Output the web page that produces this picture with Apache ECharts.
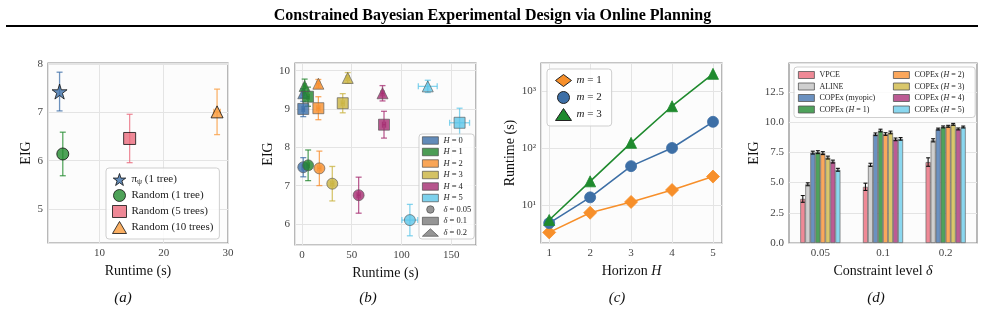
<!DOCTYPE html>
<html>
<head>
<meta charset="utf-8">
<script src="https://cdn.jsdelivr.net/npm/echarts@6/dist/echarts.min.js"></script>
<style>
  html, body { margin: 0; padding: 0; background: #fff; }
  #chart { width: 985px; height: 314px; }
</style>
</head>
<body>
<div id="chart"></div>
<script>
// ---- (a) tree policy vs random rollouts ----
const aNames = ['π_ψ (1 tree)', 'Random (1 tree)', 'Random (5 trees)', 'Random (10 trees)'];
const aRuntime = [3.8, 4.3, 14.7, 28.3];
const aRuntimeErr = [0, 0, 0, 0.5];
const aEIG = [7.43, 6.14, 6.46, 7.01];
const aEIGErr = [0.40, 0.45, 0.50, 0.47];

// ---- (b) runtime vs EIG per horizon and constraint level ----
const horizons = ['H = 0', 'H = 1', 'H = 2', 'H = 3', 'H = 4', 'H = 5'];
const deltas = ['δ = 0.05', 'δ = 0.1', 'δ = 0.2'];
const bRuntime005 = [1.3, 6.2, 17.5, 30.5, 57, 108.5];
const bEIG005 = [7.48, 7.53, 7.45, 7.05, 6.75, 6.10];
const bEIGErr005 = [0.25, 0.40, 0.45, 0.45, 0.47, 0.41];
const bRuntimeErr005 = [1.2, 1.2, 1.5, 1.5, 1.5, 8];
const bRuntime01 = [1.3, 6.1, 16.5, 41, 82.5, 158.5];
const bEIG01 = [9.00, 9.32, 9.02, 9.15, 8.59, 8.64];
const bEIGErr01 = [0.20, 0.25, 0.30, 0.25, 0.35, 0.38];
const bRuntimeErr01 = [1.2, 1.2, 1.5, 1.5, 1.5, 10];
const bRuntime02 = [1.3, 2.7, 16.5, 46, 81, 126.5];
const bEIG02 = [9.41, 9.60, 9.66, 9.81, 9.41, 9.59];
const bEIGErr02 = [0.12, 0.18, 0.11, 0.14, 0.20, 0.16];
const bRuntimeErr02 = [1.2, 1.2, 1.5, 1.5, 1.5, 9.5];

// ---- (c) runtime vs planning horizon ----
const cHorizon = [1, 2, 3, 4, 5];
const cNames = ['m = 1', 'm = 2', 'm = 3'];
const cRuntimeM1 = [3.3, 7.3, 11.3, 18.3, 31.5];
const cRuntimeM2 = [4.8, 13.6, 48, 100, 288];
const cRuntimeM3 = [5.45, 26, 123, 540, 2000];

// ---- (d) EIG per constraint level ----
const dLevels = ['0.05', '0.1', '0.2'];
const dMethods = ['VPCE', 'ALINE', 'COPEx (myopic)', 'COPEx (H = 1)',
                  'COPEx (H = 2)', 'COPEx (H = 3)', 'COPEx (H = 4)', 'COPEx (H = 5)'];
const dVPCE = [3.65, 4.65, 6.70];
const dALINE = [4.86, 6.47, 8.50];
const dMyopic = [7.48, 9.00, 9.43];
const dH1 = [7.52, 9.31, 9.61];
const dH2 = [7.44, 9.02, 9.66];
const dH3 = [7.07, 9.15, 9.82];
const dH4 = [6.74, 8.58, 9.44];
const dH5 = [6.06, 8.62, 9.60];
const dVPCEErr = [0.28, 0.30, 0.35];
const dALINEErr = [0.12, 0.13, 0.13];
const dCopexErr = [0.12, 0.11, 0.08];

const FONT = '"Liberation Serif", "DejaVu Serif", serif';
const STAR = 'path://M50,2 L61.8,38.2 L99.5,38.2 L69,60.5 L80.8,96.7 L50,74.3 L19.2,96.7 L31,60.5 L0.5,38.2 L38.2,38.2 Z';

const aColors = ['#3d6fa8', '#228b2e', '#ea6a7c', '#f99b3c'];
const aSymbols = [STAR, 'circle', 'rect', 'triangle'];
const hColors = ['#3b6ea8', '#21842c', '#f88e2c', '#c9b33f', '#a52c70', '#5cc6e8'];
const bSymbols = ['circle', 'rect', 'triangle'];
const cColors = ['#f78f2a', '#3d6fa6', '#1f8a2e'];
const cSymbols = ['diamond', 'circle', 'triangle'];
const dColors = ['#ef8996', '#cfcfcf', '#6b91c0', '#4ea25b', '#fba75c', '#d9c76b', '#bc5b94', '#8ad7ef'];

const chart = echarts.init(document.getElementById('chart'));

const gridBase = { show: true, backgroundColor: '#fcfcfc', borderColor: '#8a8a8a', borderWidth: 1.2 };
const grids = [
  { left: 48, top: 63, width: 180, height: 180 },
  { left: 295, top: 63, width: 181, height: 182 },
  { left: 541, top: 63, width: 181, height: 180 },
  { left: 789, top: 63, width: 188, height: 180 }
].map(g => Object.assign({}, gridBase, g));

function axis(gridIndex, type, opts) {
  return Object.assign({
    type: type,
    gridIndex: gridIndex,
    axisLine: { show: false },
    axisTick: { show: false },
    splitLine: { show: true, lineStyle: { color: '#e4e4e4', width: 1 } },
    axisLabel: {
      color: '#444', fontFamily: FONT, fontSize: 11, margin: 5,
      showMinLabel: false, showMaxLabel: false
    },
    nameLocation: 'middle',
    nameTextStyle: { color: '#111', fontFamily: FONT, fontSize: 14 }
  }, opts);
}

// error bars drawn through the axes of each grid
function errorBar(params, api) {
  const x = api.value(0), y = api.value(1), xe = api.value(2), ye = api.value(3);
  const cap = 3;
  const style = { stroke: api.visual('color'), lineWidth: 1.3, opacity: 0.75 };
  const top = api.coord([x, y + ye]);
  const bot = api.coord([x, y - ye]);
  const children = [
    { type: 'line', shape: { x1: top[0], y1: top[1], x2: bot[0], y2: bot[1] }, style },
    { type: 'line', shape: { x1: top[0] - cap, y1: top[1], x2: top[0] + cap, y2: top[1] }, style },
    { type: 'line', shape: { x1: bot[0] - cap, y1: bot[1], x2: bot[0] + cap, y2: bot[1] }, style }
  ];
  if (xe > 0) {
    const l = api.coord([x - xe, y]);
    const r = api.coord([x + xe, y]);
    children.push(
      { type: 'line', shape: { x1: l[0], y1: l[1], x2: r[0], y2: r[1] }, style },
      { type: 'line', shape: { x1: l[0], y1: l[1] - cap, x2: l[0], y2: l[1] + cap }, style },
      { type: 'line', shape: { x1: r[0], y1: r[1] - cap, x2: r[0], y2: r[1] + cap }, style }
    );
  }
  return { type: 'group', children };
}

const series = [];

// (a)
aNames.forEach((name, i) => {
  series.push({
    type: 'custom', xAxisIndex: 0, yAxisIndex: 0, z: 2, silent: true,
    itemStyle: { color: aColors[i] },
    renderItem: errorBar,
    data: [[aRuntime[i], aEIG[i], aRuntimeErr[i], aEIGErr[i]]]
  });
  series.push({
    name, type: 'scatter', xAxisIndex: 0, yAxisIndex: 0, z: 3,
    symbol: aSymbols[i], symbolSize: i === 0 ? 15 : 12,
    itemStyle: { color: aColors[i], borderColor: '#111', borderWidth: 1 },
    data: [[aRuntime[i], aEIG[i]]]
  });
});

// (b)
const bRuntime = [bRuntime005, bRuntime01, bRuntime02];
const bEIG = [bEIG005, bEIG01, bEIG02];
const bEIGErr = [bEIGErr005, bEIGErr01, bEIGErr02];
const bRuntimeErr = [bRuntimeErr005, bRuntimeErr01, bRuntimeErr02];
horizons.forEach((name, h) => {
  series.push({
    type: 'custom', xAxisIndex: 1, yAxisIndex: 1, z: 2, silent: true,
    itemStyle: { color: hColors[h] },
    renderItem: errorBar,
    data: deltas.map((d, k) => [bRuntime[k][h], bEIG[k][h], bRuntimeErr[k][h], bEIGErr[k][h]])
  });
  series.push({
    name, type: 'scatter', xAxisIndex: 1, yAxisIndex: 1, z: 3,
    symbolSize: 11,
    itemStyle: { color: hColors[h], borderColor: '#555', borderWidth: 0.8 },
    data: deltas.map((d, k) => ({ value: [bRuntime[k][h], bEIG[k][h]], symbol: bSymbols[k] }))
  });
});
deltas.forEach((name, k) => {
  series.push({
    name, type: 'scatter', xAxisIndex: 1, yAxisIndex: 1, symbol: bSymbols[k],
    itemStyle: { color: '#7a7a7a', borderColor: '#444', borderWidth: 0.8 },
    data: []
  });
});

// (c)
[cRuntimeM1, cRuntimeM2, cRuntimeM3].forEach((vals, i) => {
  series.push({
    name: cNames[i], type: 'line', xAxisIndex: 2, yAxisIndex: 2, z: 3 + i,
    symbol: cSymbols[i], symbolSize: i === 0 ? 13 : 11,
    lineStyle: { color: cColors[i], width: 1.6 },
    itemStyle: { color: cColors[i], borderColor: cColors[i], borderWidth: 0.8 },
    data: cHorizon.map((h, j) => [h, vals[j]])
  });
});

// (d)
const dValues = [dVPCE, dALINE, dMyopic, dH1, dH2, dH3, dH4, dH5];
const dErrors = [dVPCEErr, dALINEErr, dCopexErr, dCopexErr, dCopexErr, dCopexErr, dCopexErr, dCopexErr];
dMethods.forEach((name, m) => {
  series.push({
    name, type: 'bar', xAxisIndex: 3, yAxisIndex: 3,
    barWidth: '8%', barGap: '0%',
    itemStyle: { color: dColors[m], borderColor: '#666', borderWidth: 0.7 },
    data: dValues[m]
  });
  series.push({
    type: 'custom', xAxisIndex: 3, yAxisIndex: 3, z: 5, silent: true,
    renderItem: function (params, api) {
      const c = api.value(0), v = api.value(1), e = api.value(2);
      const band = api.size([1, 0])[0];
      const off = (m - 3.5) * band * 0.08;
      const top = api.coord([c, v + e]);
      const bot = api.coord([c, v - e]);
      const x = top[0] + off;
      const style = { stroke: '#111', lineWidth: 1.1 };
      return { type: 'group', children: [
        { type: 'line', shape: { x1: x, y1: top[1], x2: x, y2: bot[1] }, style },
        { type: 'line', shape: { x1: x - 2, y1: top[1], x2: x + 2, y2: top[1] }, style },
        { type: 'line', shape: { x1: x - 2, y1: bot[1], x2: x + 2, y2: bot[1] }, style }
      ] };
    },
    data: dLevels.map((l, j) => [j, dValues[m][j], dErrors[m][j]])
  });
});

const legendBox = { backgroundColor: 'rgba(255,255,255,0.85)', borderColor: '#cfcfcf', borderWidth: 1, borderRadius: 3, selectedMode: false };
const italic = (s) => s.replace(/^([Hm]) =/, '{i|$1} =').replace('(H =', '({i|H} =').replace(/^δ/, '{i|δ}');

const option = {
  animation: false,
  backgroundColor: '#fff',
  grid: grids,
  xAxis: [
    axis(0, 'value', { min: 2, max: 30, splitNumber: 3, name: 'Runtime (s)', nameGap: 17,
      axisLabel: { color: '#444', fontFamily: FONT, fontSize: 11, margin: 5, showMinLabel: false, showMaxLabel: true } }),
    axis(1, 'value', { min: -7, max: 175, splitNumber: 4, name: 'Runtime (s)', nameGap: 17 }),
    axis(2, 'value', { min: 0.8, max: 5.22, splitNumber: 5, name: 'Horizon {i|H}', nameGap: 17,
      nameTextStyle: { color: '#111', fontFamily: FONT, fontSize: 14,
        rich: { i: { fontStyle: 'italic', fontFamily: FONT, fontSize: 14, color: '#111' } } } }),
    axis(3, 'category', { data: dLevels, name: 'Constraint level {i|δ}', nameGap: 17,
      splitLine: { show: false },
      axisLabel: { color: '#444', fontFamily: FONT, fontSize: 11, margin: 5, interval: 0 },
      nameTextStyle: { color: '#111', fontFamily: FONT, fontSize: 14,
        rich: { i: { fontStyle: 'italic', fontFamily: FONT, fontSize: 14, color: '#111' } } } })
  ],
  yAxis: [
    axis(0, 'value', { min: 4.3, max: 8.02, splitNumber: 4, name: 'EIG', nameGap: 12 }),
    axis(1, 'value', { min: 5.45, max: 10.2, splitNumber: 5, name: 'EIG', nameGap: 20 }),
    axis(2, 'log', { min: 2.15, max: 3100, logBase: 10, name: 'Runtime (s)', nameGap: 24,
      axisLabel: {
        color: '#444', fontFamily: FONT, fontSize: 11, margin: 5, showMinLabel: false, showMaxLabel: false,
        formatter: v => '10' + ['⁰', '¹', '²', '³', '⁴'][Math.round(Math.log10(v))]
      } }),
    axis(3, 'value', { min: 0, max: 14.9, interval: 2.5, name: 'EIG', nameGap: 28,
      axisLabel: {
        color: '#444', fontFamily: FONT, fontSize: 11, margin: 5, showMinLabel: true, showMaxLabel: false,
        formatter: v => v.toFixed(1)
      } })
  ],
  legend: [
    Object.assign({}, legendBox, {
      left: 106, top: 168, orient: 'vertical', padding: [5, 6, 5, 6],
      itemWidth: 14, itemHeight: 12, itemGap: 3,
      data: aNames.map((n, i) => ({ name: n, icon: aSymbols[i],
        itemStyle: { color: aColors[i], borderColor: '#111', borderWidth: 1 } })),
      formatter: n => n === aNames[0] ? '{n|π}{s|ψ}{n| (1 tree)}' : n,
      textStyle: { fontFamily: FONT, fontSize: 11, color: '#222',
        rich: {
          n: { fontFamily: FONT, fontSize: 11, color: '#222', lineHeight: 13 },
          s: { fontFamily: FONT, fontSize: 8, color: '#222', verticalAlign: 'bottom', lineHeight: 13 }
        } }
    }),
    Object.assign({}, legendBox, {
      left: 419, top: 134, orient: 'vertical', padding: [2, 3, 2, 3],
      itemWidth: 16, itemHeight: 7.5, itemGap: 2.5,
      data: horizons.map((n, h) => ({ name: n, icon: 'rect',
        itemStyle: { color: hColors[h], borderColor: '#444', borderWidth: 0.8 } }))
        .concat(deltas.map((n, k) => ({ name: n, icon: bSymbols[k],
          itemStyle: { color: '#7a7a7a', borderColor: '#444', borderWidth: 0.8 } }))),
      formatter: italic,
      textStyle: { fontFamily: FONT, fontSize: 8.5, color: '#222', lineHeight: 9,
        rich: { i: { fontFamily: FONT, fontSize: 8.5, fontStyle: 'italic', color: '#222', lineHeight: 9 } } }
    }),
    Object.assign({}, legendBox, {
      left: 547, top: 69, orient: 'vertical', padding: [5, 10, 5, 8],
      itemWidth: 16, itemHeight: 12, itemGap: 4,
      data: cNames.map((n, i) => ({ name: n, icon: cSymbols[i],
        itemStyle: { color: cColors[i], borderColor: '#222', borderWidth: 1 } })),
      formatter: italic,
      textStyle: { fontFamily: FONT, fontSize: 11, color: '#222',
        rich: { i: { fontFamily: FONT, fontSize: 11, fontStyle: 'italic', color: '#222' } } }
    }),
    Object.assign({}, legendBox, {
      left: 794, top: 67, orient: 'vertical', padding: [4, 100, 4, 4],
      itemWidth: 16, itemHeight: 7, itemGap: 3.5,
      data: dMethods.slice(0, 4).map((n, m) => ({ name: n, icon: 'rect',
        itemStyle: { color: dColors[m], borderColor: '#555', borderWidth: 0.8 } })),
      formatter: italic,
      textStyle: { fontFamily: FONT, fontSize: 8, color: '#222',
        rich: { i: { fontFamily: FONT, fontSize: 8, fontStyle: 'italic', color: '#222' } } }
    }),
    {
      left: 889, top: 67, orient: 'vertical', padding: [4, 4, 4, 4], selectedMode: false,
      itemWidth: 16, itemHeight: 7, itemGap: 3.5,
      data: dMethods.slice(4).map((n, m) => ({ name: n, icon: 'rect',
        itemStyle: { color: dColors[m + 4], borderColor: '#555', borderWidth: 0.8 } })),
      formatter: italic,
      textStyle: { fontFamily: FONT, fontSize: 8, color: '#222',
        rich: { i: { fontFamily: FONT, fontSize: 8, fontStyle: 'italic', color: '#222' } } }
    }
  ],
  title: {
    text: 'Constrained Bayesian Experimental Design via Online Planning',
    left: 'center', top: 3,
    textStyle: { fontFamily: FONT, fontWeight: 'bold', fontSize: 16, color: '#000' }
  },
  graphic: [
    { type: 'line', shape: { x1: 6, y1: 26, x2: 978, y2: 26 }, style: { stroke: '#000', lineWidth: 2 } },
    { type: 'text', x: 123, y: 298, style: { text: '(a)', align: 'center', verticalAlign: 'middle', font: 'italic 15px ' + FONT, fill: '#111' } },
    { type: 'text', x: 368, y: 298, style: { text: '(b)', align: 'center', verticalAlign: 'middle', font: 'italic 15px ' + FONT, fill: '#111' } },
    { type: 'text', x: 617, y: 298, style: { text: '(c)', align: 'center', verticalAlign: 'middle', font: 'italic 15px ' + FONT, fill: '#111' } },
    { type: 'text', x: 876, y: 298, style: { text: '(d)', align: 'center', verticalAlign: 'middle', font: 'italic 15px ' + FONT, fill: '#111' } }
  ],
  series
};

chart.setOption(option);
</script>
</body>
</html>
